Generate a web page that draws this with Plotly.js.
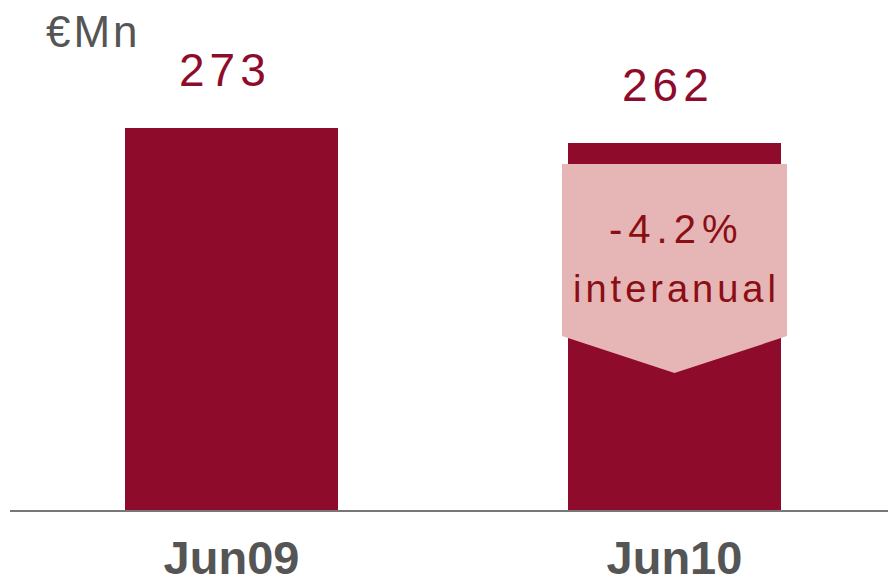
<!DOCTYPE html>
<html>
<head>
<meta charset="utf-8">
<script src="https://cdn.plot.ly/plotly-3.0.1.min.js"></script>
<style>
html,body{margin:0;padding:0;background:#fff;}
#chart{width:888px;height:585px;}
</style>
</head>
<body>
<div id="chart"></div>
<script>
// Data
const categories = ["Jun09", "Jun10"];
const values = [273, 262];
const valueLabels = ["273", "262"];
const unitLabel = "€Mn";
const changeLabel = "-4.2%";
const changeSub = "interanual";

const barColor = "#8E0B2B";
const calloutColor = "#E6B5B5";
const calloutText = "#8A0E14";
const grey = "#555555";

const xIdx = categories.map((c, i) => i);

const trace = {
  type: "bar",
  x: xIdx,
  y: values,
  width: 0.48,
  marker: {color: barColor, line: {width: 0}},
  hoverinfo: "skip"
};

const annotations = [];
values.forEach((v, i) => {
  annotations.push({
    x: i, y: v, xref: "x", yref: "y",
    text: '<span style="letter-spacing:5px">' + valueLabels[i] + '</span>',
    showarrow: false, xanchor: "center", yanchor: "bottom",
    xshift: -6, yshift: 30,
    font: {family: "Liberation Sans, Arial, sans-serif", size: 46, color: barColor}
  });
});
annotations.push({
  x: 0.0387, y: 0.976, xref: "paper", yref: "paper",
  text: '<span style="letter-spacing:3px">' + unitLabel + '</span>',
  showarrow: false, xanchor: "left", yanchor: "middle",
  font: {family: "Liberation Sans, Arial, sans-serif", size: 44, color: grey}
});
annotations.push({
  x: 1, y: 200.8, xref: "x", yref: "y",
  text: '<span style="letter-spacing:6px">' + changeLabel + '</span>',
  showarrow: false, xanchor: "center", yanchor: "middle", xshift: 2,
  font: {family: "Liberation Sans, Arial, sans-serif", size: 40, color: calloutText}
});
annotations.push({
  x: 1, y: 158.1, xref: "x", yref: "y",
  text: '<span style="letter-spacing:4px">' + changeSub + '</span>',
  showarrow: false, xanchor: "center", yanchor: "middle", xshift: 2,
  font: {family: "Liberation Sans, Arial, sans-serif", size: 38, color: calloutText}
});

// callout arrow shape around the second bar
const cx = 1, hw = 0.254, topY = 247.3, sideY = 124.3, tipY = 97.9;
const calloutPath = `M ${cx - hw},${topY} L ${cx + hw},${topY} L ${cx + hw},${sideY} L ${cx},${tipY} L ${cx - hw},${sideY} Z`;

const layout = {
  width: 888, height: 585,
  margin: {l: 10, r: 0, t: 20, b: 75},
  paper_bgcolor: "#ffffff",
  plot_bgcolor: "#ffffff",
  showlegend: false,
  bargap: 0,
  xaxis: {
    range: [-0.5, 1.482],
    tickvals: xIdx,
    ticktext: categories,
    showgrid: false, zeroline: false,
    showline: true, linecolor: "#777777", linewidth: 2,
    ticks: "",
    ticklabelstandoff: 6,
    tickfont: {family: "Liberation Sans, Arial, sans-serif", size: 47, color: grey, weight: "bold"},
    fixedrange: true
  },
  yaxis: {
    range: [0, 350.2],
    visible: false,
    showgrid: false, zeroline: false,
    fixedrange: true
  },
  shapes: [{
    type: "path", xref: "x", yref: "y",
    path: calloutPath,
    fillcolor: calloutColor, line: {width: 0}, layer: "above"
  }],
  annotations: annotations
};

Plotly.newPlot("chart", [trace], layout, {displayModeBar: false, staticPlot: true});
</script>
</body>
</html>
